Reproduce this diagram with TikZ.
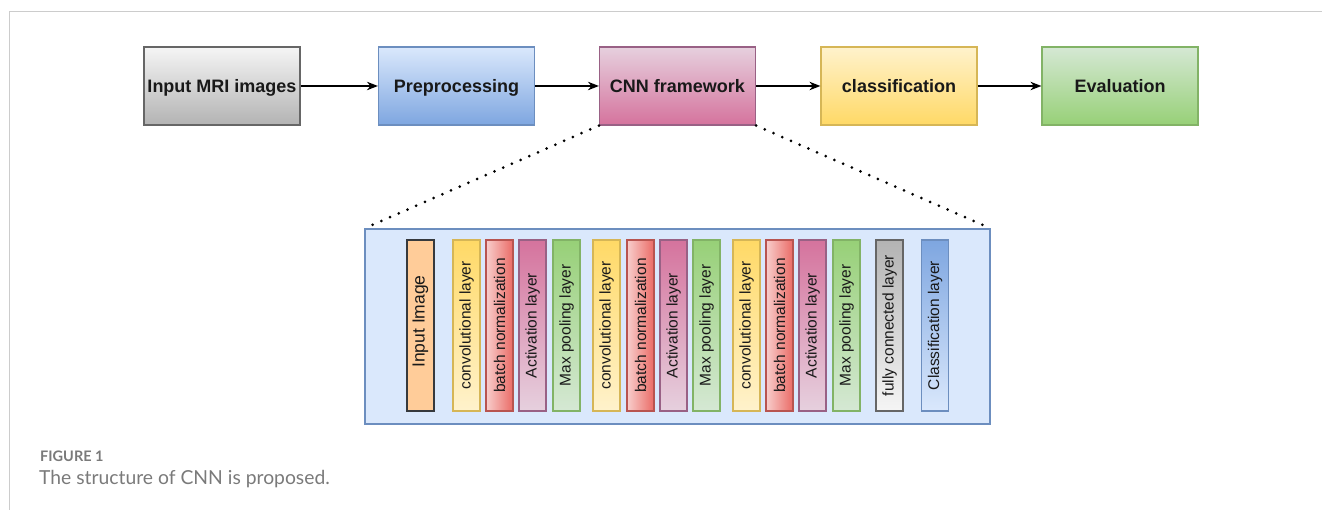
\documentclass[tikz,border=0pt]{standalone}
\usepackage{fontspec}
\setmainfont{Liberation Sans}
\newfontfamily\capfont{Lato}
\usetikzlibrary{arrows.meta}
\definecolor{grayT}{HTML}{F5F5F5}\definecolor{grayB}{HTML}{B3B3B3}\definecolor{grayD}{HTML}{666666}
\definecolor{blueT}{HTML}{DAE8FC}\definecolor{blueB}{HTML}{7EA6E0}\definecolor{blueD}{HTML}{6C8EBF}
\definecolor{pinkT}{HTML}{E6D0DE}\definecolor{pinkB}{HTML}{D5739D}\definecolor{pinkD}{HTML}{996185}
\definecolor{yelT}{HTML}{FFF2CC}\definecolor{yelB}{HTML}{FFD966}\definecolor{yelD}{HTML}{D6B656}
\definecolor{grnT}{HTML}{D5E8D4}\definecolor{grnB}{HTML}{97D077}\definecolor{grnD}{HTML}{82B366}
\definecolor{redT}{HTML}{F8CECC}\definecolor{redB}{HTML}{EA6B66}\definecolor{redD}{HTML}{B85450}
\definecolor{orgF}{HTML}{FFCC99}\definecolor{orgD}{HTML}{36393D}
\definecolor{frameC}{HTML}{CCCCCC}\definecolor{capC}{HTML}{7A7A7A}
\begin{document}
\begin{tikzpicture}[x=1pt,y=-1pt,
 box/.style={draw, line width=1.2pt, minimum width=156pt, minimum height=78pt, inner sep=0pt,
   text height=13pt, text depth=0pt,
   font=\fontsize{18}{20}\selectfont\bfseries, text=black!90},
 strip/.style={draw, line width=1.2pt, minimum width=27pt, minimum height=171pt, inner sep=0pt},
 lbl/.style={rotate=90, font=\fontsize{15.5}{17}\selectfont, inner sep=0pt, text=black!90},
 arr/.style={-{Stealth[length=11pt,width=8.5pt]}, line width=1.3pt},
 dots/.style={line width=3pt, line cap=round, dash pattern=on 0pt off 9.5pt},
 conv/.style={strip, draw=yelD, top color=yelB, bottom color=yelT},
 bnorm/.style={strip, draw=redD, left color=redT, right color=redB},
 act/.style={strip, draw=pinkD, top color=pinkB, bottom color=pinkT},
 pool/.style={strip, draw=grnD, top color=grnB, bottom color=grnT}]
\useasboundingbox (0,0) rectangle (1322,510);
\draw[frameC, line width=1pt] (1322,12) -- (9,12) -- (9,510);

% top row
\node[box, draw=grayD, top color=grayT, bottom color=grayB] (in) at (222,86) {Input MRI images};
\node[box, draw=blueD, top color=blueT, bottom color=blueB] (pre) at (456.5,86) {Preprocessing};
\node[box, draw=pinkD, top color=pinkT, bottom color=pinkB] (cnn) at (677.5,86) {CNN framework};
\node[box, draw=yelD, top color=yelT, bottom color=yelB] (cls) at (899,86) {classification};
\node[box, draw=grnD, top color=grnT, bottom color=grnB] (ev) at (1120,86) {Evaluation};
\draw[arr] (in) -- (pre);
\draw[arr] (pre) -- (cnn);
\draw[arr] (cnn) -- (cls);
\draw[arr] (cls) -- (ev);

% detail box
\node[draw=blueD, fill=blueT, line width=1.2pt, minimum width=625pt, minimum height=195pt, inner sep=0pt] (big) at (677.5,326.5) {};
\draw[dots] (cnn.south west) -- (big.north west);
\draw[dots] (cnn.south east) -- (big.north east);

\node[strip, draw=orgD, fill=orgF] (s1) at (420.5,325.5) {};
\node[conv] (s2) at (466.5,325.5) {};
\node[bnorm] (s3) at (499.5,325.5) {};
\node[act] (s4) at (532.5,325.5) {};
\node[pool] (s5) at (566.5,325.5) {};
\node[conv] (s6) at (606.5,325.5) {};
\node[bnorm] (s7) at (640.5,325.5) {};
\node[act] (s8) at (673.5,325.5) {};
\node[pool] (s9) at (706.5,325.5) {};
\node[conv] (s10) at (746.5,325.5) {};
\node[bnorm] (s11) at (779.5,325.5) {};
\node[act] (s12) at (812.5,325.5) {};
\node[pool] (s13) at (846.5,325.5) {};
\node[strip, draw=grayD, top color=grayB, bottom color=grayT] (s14) at (889.5,325.5) {};
\node[strip, draw=blueD, top color=blueB, bottom color=blueT] (s15) at (935,325.5) {};

\node[lbl, font=\fontsize{17.5}{19}\selectfont] (t1) at ([yshift=4pt]s1.center) {Input Image};
\node[lbl] (t2) at (s2) {convolutional layer};
\node[lbl] (t3) at (s3) {batch normalization};
\node[lbl] (t4) at (s4) {Activation layer};
\node[lbl] (t5) at (s5) {Max pooling layer};
\node[lbl] (t6) at (s6) {convolutional layer};
\node[lbl] (t7) at (s7) {batch normalization};
\node[lbl] (t8) at (s8) {Activation layer};
\node[lbl] (t9) at (s9) {Max pooling layer};
\node[lbl] (t10) at (s10) {convolutional layer};
\node[lbl] (t11) at (s11) {batch normalization};
\node[lbl] (t12) at (s12) {Activation layer};
\node[lbl] (t13) at (s13) {Max pooling layer};
\node[lbl] (t14) at (s14) {fully connected layer};
\node[lbl] (t15) at (s15) {Classification layer};

% caption
\node[anchor=base west, inner sep=0pt, text=capC, font=\capfont\fontsize{14.5}{16}\selectfont\bfseries] (fig) at (40,461) {FIGURE 1};
\node[anchor=base west, inner sep=0pt, text=capC, font=\capfont\fontsize{19.3}{21}\selectfont] (cap) at (39,484) {The structure of CNN is proposed.};
\end{tikzpicture}
\end{document}
